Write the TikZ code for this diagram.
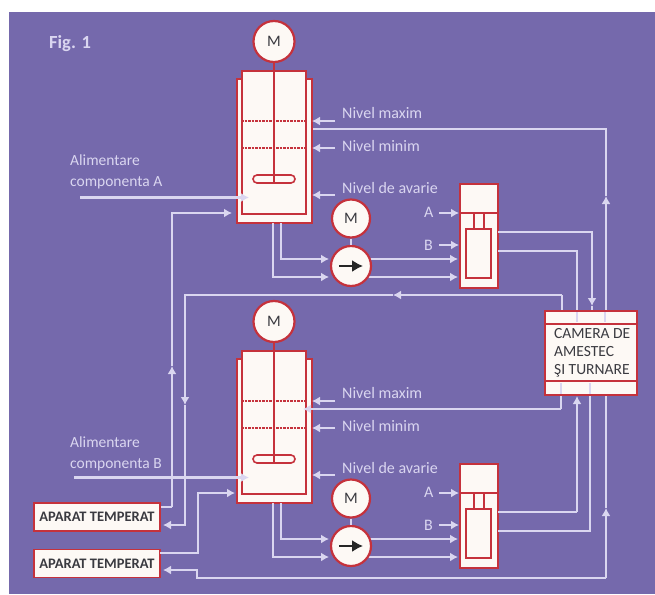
\documentclass[tikz,border=0pt]{standalone}
\usepackage{fontspec}
\setmainfont{Carlito}
\usepackage{xcolor}
\usetikzlibrary{arrows.meta}
\definecolor{bgpurple}{HTML}{7569AC}
\definecolor{pipelight}{HTML}{DAD6F0}
\definecolor{boxred}{HTML}{C5323C}
\definecolor{boxwhite}{HTML}{FDF9F5}
\definecolor{inkgrey}{HTML}{3A3A40}
\tikzset{
    pipe/.style={draw=pipelight, line width=2.8pt},
    flow/.style={pipe, -{Latex[length=8pt,width=9pt]}},
    redbox/.style={draw=boxred, fill=boxwhite, line width=1.6pt, inner sep=0pt},
    roundbox/.style={redbox, circle, line width=2.2pt, font=\fontsize{16}{16}\selectfont, text=inkgrey},
    lighttext/.style={text=pipelight, font=\fontsize{16}{21}\selectfont, align=left, anchor=west, inner sep=0pt},
    tempbox/.style={redbox, minimum width=126pt, minimum height=28pt, text=inkgrey, font=\fontsize{14.5}{15}\selectfont\bfseries},
    tick/.style={draw=pipelight, line width=2.4pt}
}
\begin{document}
\begin{tikzpicture}[x=1pt,y=-1pt]
    \useasboundingbox (0,0) rectangle (655,594);
    \fill[white] (0,0) rectangle (655,594);
    \fill[bgpurple] (9,12) rectangle (655,594);
    \node[lighttext, font=\fontsize{18.5}{18}\selectfont\bfseries] (figlabel) at (49,44) {Fig. 1};

    % the fixed boxes and the points the long lines run through
    \node[tempbox] (temp1) at (97,517) {APARAT TEMPERAT};
    \node[tempbox] (temp2) at (97,563.5) {APARAT TEMPERAT};
    \foreach \n/\x/\y in {hot1a/232/213,hot1b/172/213,hot1c/172/507,hot1m/172/366,
                          ret1a/163/525,ret1b/185/525,ret1c/185/295,ret1m/185/405,ret1d/393/295,ret1e/562/295,ret1f/562/311,
                          hot2a/235/493,hot2b/198/493,hot2c/198/553,hot2d/160/553,
                          ret2a/163/570,ret2b/197/570,ret2c/197/578,ret2d/606/578,ret2m/606/508,ret2e/606/196,ret2f/606/129,
                          sen1a/304/129,sen2a/303/409,sen2b/561/409,sen2c/561/395,
                          top1/592/311,top1m/592/306,top2/577/311,
                          bot1/577/396,bot2/590/395,turn1/577/512,turn2/590/531} {
        \coordinate (\n) at (\x,\y);
    }
    \draw[pipe] (hot1c) -- (temp1.east |- hot1c);
    \draw[flow] (hot1c) -- (hot1m);
    \draw[flow] (hot1m) -- (hot1b) -- (hot1a);
    \draw[pipe] (ret1e) -- (ret1f);
    \draw[flow] (ret1e) -- (ret1d);
    \draw[flow] (ret1d) -- (ret1c) -- (ret1m);
    \draw[flow] (ret1m) -- (ret1b) -- (ret1a);
    \draw[flow] (hot2d) -- (hot2c) -- (hot2b) -- (hot2a);
    \draw[flow] (ret2d) -- (ret2c) -- (ret2b) -- (ret2a);
    \draw[flow] (ret2d) -- (ret2m);
    \draw[flow] (ret2m) -- (ret2e);
    \draw[flow] (ret2e) -- (ret2f) -- (sen1a);

    % one mixing vessel with its pump and its dosing unit
    \foreach \u/\dy/\c/\xs/\fy in {1/0/A/80/172,2/280/B/74/174} {
        \begin{scope}[shift={(0,\dy)}]
            \node[redbox, line width=1.2pt, minimum width=75pt, minimum height=144pt] (jacket\u) at (274.5,151) {};
            \node[redbox, minimum width=64pt, minimum height=143pt] (vessel\u) at (274,142.5) {};
            \node[roundbox, minimum size=41pt] (motor\u) at (274,41.5) {M};
            \node[redbox, rounded corners=4pt, minimum width=42pt, minimum height=8pt, fill=none] (blade\u) at (274,179) {};
            \draw[boxred, line width=1.6pt] (motor\u) -- (blade\u.south);
            \foreach \n/\y in {max/121,min/148} {
                \draw[boxred, line width=1.4pt, dash pattern=on 2.5pt off 1pt] (vessel\u.west |- 0,\y) -- (vessel\u.east |- 0,\y);
            }
            \node[lighttext] (nmax\u) at (342,113) {Nivel maxim};
            \node[lighttext] (nmin\u) at (342,146) {Nivel minim};
            \node[lighttext] (nava\u) at (342,188) {Nivel de avarie};
            \node[lighttext, font=\fontsize{15.5}{21}\selectfont] (feed\u) at (70,\fy) {Alimentare\\componenta \c};

            \foreach \n/\x/\y in {mxa/335/121,mxb/312/121,mna/335/148,mnb/312/148,ava/335/195,avb/312/195,
                                  fda/\xs/197.5,fdb/249/197.5,
                                  dra/281/223,drb/329/259,dsa/273/223,dsb/329/277,
                                  pua/351/259,pub/458/259,puc/351/277,pud/458/277,
                                  ina/439/213,inb/459/213,inc/439/245,ind/459/245,
                                  ota/498/232,otb/498/251} {
                \coordinate (\n\u) at (\x,\y);
            }
            \draw[flow] (mxa\u) -- (mxb\u);
            \draw[flow] (mna\u) -- (mnb\u);
            \draw[flow] (ava\u) -- (avb\u);
            \draw[flow] (fda\u) -- (fdb\u);
            \draw[flow] (dra\u) |- (drb\u);
            \draw[flow] (dsa\u) |- (dsb\u);
            \draw[flow] (pua\u) -- (pub\u);
            \draw[flow] (puc\u) -- (pud\u);

            \node[roundbox, minimum size=38pt] (drive\u) at (351,218.5) {M};
            \node[roundbox, minimum size=40pt] (pump\u) at (351,266) {};
            \draw[-{Latex[length=11pt,width=12pt]}, black!85, line width=1.8pt] (pump\u.center) ++(-12,0) -- ++(24,0);
            \draw[pipelight, line width=2.8pt] (drive\u) -- (pump\u);

            \node[redbox, minimum width=38pt, minimum height=104pt] (dose\u) at (479,236) {};
            \node[redbox, minimum width=25pt, minimum height=49pt] (piston\u) at (478.5,253.5) {};
            \draw[boxred, line width=1.6pt] (dose\u.west |- 0,213) -- (dose\u.east |- 0,213);
            \foreach \x in {474,484} {
                \draw[boxred, line width=1.6pt] (\x,213) -- (piston\u.north -| \x,0);
            }
            \node[lighttext] (la\u) at (424,212) {A};
            \node[lighttext] (lb\u) at (424,245) {B};
            \draw[flow] (ina\u) -- (inb\u);
            \draw[flow] (inc\u) -- (ind\u);
        \end{scope}
    }

    % lines from the dosing units and the second level line
    \draw[flow] (sen2b) -- (sen2a);
    \draw[pipe] (sen2c) -- (sen2b);
    \draw[flow] (ota1) -| (top1m);
    \draw[pipe] (top1m) -- (top1);
    \draw[pipe] (otb1) -| (top2);
    \draw[pipe] (ota2) -- (turn1);
    \draw[flow] (turn1) -- (bot1);
    \draw[pipe] (otb2) -- (turn2) -- (bot2);

    \node[redbox, minimum width=92pt, minimum height=84pt] (camera) at (591,353) {};
    \draw[boxred, line width=1.6pt] (camera.west |- 0,324) -- (camera.east |- 0,324);
    \draw[boxred, line width=1.6pt] (camera.west |- 0,381) -- (camera.east |- 0,381);
    \node[text=inkgrey, align=left, anchor=west, inner sep=0pt, font=\fontsize{15.5}{18}\selectfont] (cameratext) at (554,352.5) {CAMERA DE\\AMESTEC\\ŞI TURNARE};
    \foreach \x in {577,605} {
        \draw[tick] (\x,312) -- (\x,322);
    }
    \foreach \x in {561,590} {
        \draw[tick] (\x,383) -- (\x,394);
    }
\end{tikzpicture}
\end{document}
